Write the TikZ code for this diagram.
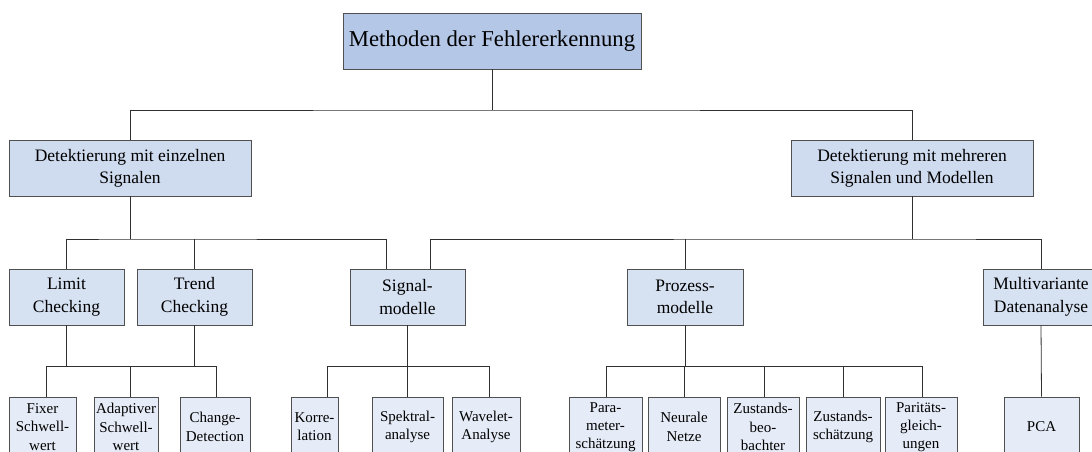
\documentclass[tikz,border=0pt]{standalone}
\usepackage{fontspec}
\setmainfont{Liberation Serif}
\usetikzlibrary{calc}
\definecolor{topfill}{HTML}{B4C7E7}
\definecolor{midfill}{HTML}{CFDBEF}
\definecolor{lowfill}{HTML}{D6E1F2}
\definecolor{leaffill}{HTML}{E6ECF7}
\definecolor{boxline}{HTML}{505050}
\definecolor{wire}{HTML}{303030}
\begin{document}
\begin{tikzpicture}[x=1pt,y=-1pt,
  box/.style={draw=boxline, line width=0.8pt, align=center, inner sep=0pt},
  topbox/.style={box, fill=topfill, minimum width=298pt, minimum height=56pt,
    font=\fontsize{22.7}{27}\selectfont},
  midbox/.style={box, fill=midfill, minimum width=242pt, minimum height=56pt,
    font=\fontsize{17.5}{22}\selectfont},
  lowbox/.style={box, fill=lowfill, minimum width=115pt, minimum height=56pt,
    font=\fontsize{17.5}{22.5}\selectfont},
  leaf/.style={box, fill=leaffill, minimum height=60pt,
    font=\fontsize{15}{18.3}\selectfont},
  wireline/.style={draw=wire, line width=0.8pt}]
\useasboundingbox (0,0) rectangle (1092,451);
\clip (0,0) rectangle (1092,451);

% root
\node[topbox] (root) at (492,41) {Methoden der Fehlererkennung};

% second level
\node[midbox] (single) at (130,168) {Detektierung mit einzelnen\\Signalen};
\node[midbox] (multi) at (912,168) {Detektierung mit mehreren\\Signalen und Modellen};

% third level
\node[lowbox] (limit) at (66.5,297) {Limit\\Checking};
\node[lowbox] (trend) at (194.5,297) {Trend\\Checking};
\node[lowbox] (sig) at (407.5,297) {Signal-\\modelle};
\node[lowbox, minimum width=116pt] (proz) at (685,297) {Prozess-\\modelle};
\node[lowbox, minimum width=116pt] (mva) at (1041,297) {Multivariante\\Datenanalyse};

% leaves
\node[leaf, minimum width=67pt] (fixer) at (42.5,427) {Fixer\\Schwell-\\wert};
\node[leaf, minimum width=64pt] (adapt) at (126,427) {Adaptiver\\Schwell-\\wert};
\node[leaf, minimum width=70pt] (change) at (215,427) {Change-\\Detection};
\node[leaf, minimum width=47pt] (korr) at (314.5,427) {Korre-\\lation};
\node[leaf, minimum width=71pt] (spek) at (407.5,427) {Spektral-\\analyse};
\node[leaf, minimum width=68pt] (wave) at (486,427) {Wavelet-\\Analyse};
\node[leaf, minimum width=73pt] (para) at (605.5,427) {Para-\\meter-\\schätzung};
\node[leaf, minimum width=72pt] (neur) at (684,427) {Neurale\\Netze};
\node[leaf, minimum width=72pt] (zbeo) at (763,427) {Zustands-\\beo-\\bachter};
\node[leaf, minimum width=74pt] (zsch) at (843,427) {Zustands-\\schätzung};
\node[leaf, minimum width=72pt] (parit) at (921,427) {Paritäts-\\gleich-\\ungen};
\node[leaf, minimum width=75pt] (pca) at (1041.5,427) {PCA};

% bus junctions
\coordinate (busA) at (492,110);
\coordinate (busB) at (130,239);
\coordinate (busC) at (912,239);
\coordinate (sigL) at (386,239);
\coordinate (sigR) at (430,239);
\coordinate (busD) at (130,366);
\coordinate (kFixer) at (46,366);
\coordinate (kAdapt) at (130,366);
\coordinate (kChange) at (216,366);
\coordinate (kKorr) at (327,366);
\coordinate (kSpek) at (407,366);
\coordinate (kWave) at (489,366);
\coordinate (kPara) at (606,366);
\coordinate (kNeur) at (684,366);
\coordinate (kZbeo) at (764,366);
\coordinate (kZsch) at (843,366);
\coordinate (kParit) at (922,366);

% root to second level
\draw[wireline] (root.south) -- (busA);
\draw[wireline] (single.north) |- (busA) -| (multi.north);

% left branch
\draw[wireline] (single.south) -- (busB);
\draw[wireline] (limit.north) |- (busB) -- (sigL) -- (sigL |- sig.north);
\draw[wireline] (trend.north) -- (trend.north |- busB);

% right branch
\draw[wireline] (multi.south) -- (busC);
\draw[wireline] (sigR |- sig.north) -- (sigR) -- (busC) -| (mva.north);
\draw[wireline] (proz.north) -- (proz.north |- busC);

% limit and trend checking leaves
\draw[wireline] (limit.south) -- (limit.south |- busD);
\draw[wireline] (trend.south) -- (trend.south |- busD);
\draw[wireline] (kFixer |- fixer.north) -- (kFixer) -- (kChange) -- (kChange |- change.north);
\draw[wireline] (kAdapt) -- (kAdapt |- adapt.north);

% signal model leaves
\draw[wireline] (sig.south) -- (sig.south |- kSpek);
\draw[wireline] (kKorr |- korr.north) -- (kKorr) -- (kWave) -- (kWave |- wave.north);
\draw[wireline] (kSpek) -- (kSpek |- spek.north);

% process model leaves
\draw[wireline] (proz.south) -- (proz.south |- kNeur);
\draw[wireline] (kPara |- para.north) -- (kPara) -- (kParit) -- (kParit |- parit.north);
\draw[wireline] (kNeur) -- (kNeur |- neur.north);
\draw[wireline] (kZbeo) -- (kZbeo |- zbeo.north);
\draw[wireline] (kZsch) -- (kZsch |- zsch.north);

% multivariate analysis leaf
\draw[wireline] (mva.south) -- (pca.north);
\end{tikzpicture}
\end{document}
